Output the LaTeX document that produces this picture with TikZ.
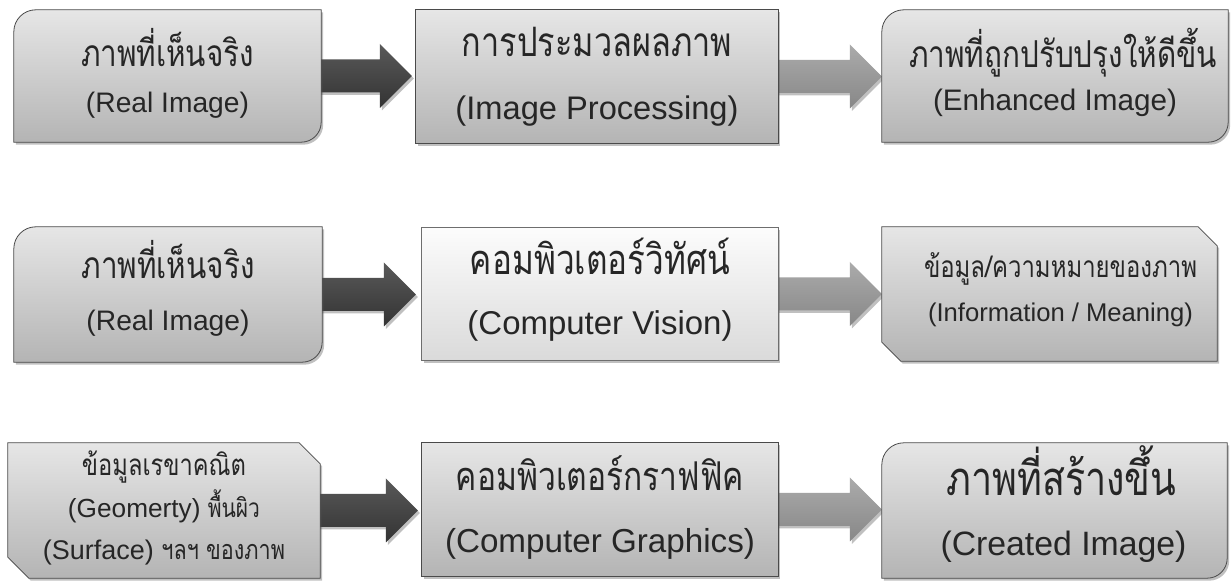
\documentclass[tikz,border=0pt]{standalone}
\usepackage{fontspec}
\setmainfont{Liberation Sans}
\newfontfamily\thai[Script=Thai,FakeStretch=0.8]{Loma}
\usetikzlibrary{calc,shadows}
\pgfdeclarelayer{bg}
\pgfdeclarelayer{mid}
\pgfsetlayers{bg,mid,main}
\definecolor{boxline}{HTML}{4A4A4A}
\definecolor{boxtop}{HTML}{E6E6E6}
\definecolor{boxbot}{HTML}{B4B4B4}
\definecolor{litetop}{HTML}{FCFCFC}
\definecolor{litebot}{HTML}{DADADA}
\newcommand\tw[2]{\resizebox{#1pt}{!}{#2}}
\newcommand\rdiagbox[2]{\path[#2] ([yshift=-22pt]#1.north west) arc[start angle=180,end angle=90,radius=22pt] -- (#1.north east) -- ([yshift=20pt]#1.south east) arc[start angle=0,end angle=-90,radius=20pt] -- (#1.south west) -- cycle;}
\newcommand\snipbox[3]{\path[#2] (#1.north west) -- ([xshift=-#3pt]#1.north east) -- ([yshift=-#3pt]#1.north east) -- (#1.south east) -- ([xshift=#3pt]#1.south west) -- ([yshift=#3pt]#1.south west) -- cycle;}
\newcommand\rectbox[2]{\path[#2] (#1.north west) rectangle (#1.south east);}
\newcommand\bigarrow[5]{\path[#3] let \p1=($(#1.east)+(-#4pt,0)$), \p2=($(#2.west)+(-#5pt,0)$) in (\x1,\y1+16.5pt) -- (\x2-32pt,\y1+16.5pt) -- (\x2-32pt,\y1+32pt) -- (\x2,\y1) -- (\x2-32pt,\y1-32pt) -- (\x2-32pt,\y1-16.5pt) -- (\x1,\y1-16.5pt) -- cycle;}
\begin{document}
\begin{tikzpicture}[x=1pt,y=1pt,
  boxnode/.style={inner sep=0pt, minimum width=#1},
  tbox/.style={inner sep=0pt, align=center, text=black!85},
  bskip/.style={font={\fontsize{20}{#1}\selectfont}},
  shad/.style={drop shadow={shadow xshift=2pt,shadow yshift=-2.5pt,opacity=0.35,fill=black!70}},
  grayfill/.style={draw=boxline, line width=0.8pt, top color=boxtop, bottom color=boxbot, shad},
  litefill/.style={draw=boxline!80, line width=0.8pt, top color=litetop, bottom color=litebot, shad},
  darkarrow/.style={top color=black!65, bottom color=black!80, shad},
  grayarrow/.style={top color=black!33, bottom color=black!47, shad}]
\useasboundingbox (0,0) rectangle (1232,581);
\begin{pgfonlayer}{bg}
\fill[white] (0,0) rectangle (1232,581);
\end{pgfonlayer}
\lineskiplimit=-300pt
\lineskip=0pt
% boxes (shape holders)
\node[boxnode=307pt, minimum height=132pt] (A1) at (167.5,505) {};
\node[boxnode=362pt, minimum height=133pt] (B1) at (597,504.5) {};
\node[boxnode=346pt, minimum height=132pt] (C1) at (1055,505) {};
\node[boxnode=308pt, minimum height=135pt] (A2) at (168,286.5) {};
\node[boxnode=356pt, minimum height=132pt] (B2) at (600,287) {};
\node[boxnode=335pt, minimum height=134pt] (C2) at (1049.5,287) {};
\node[boxnode=312pt, minimum height=135pt] (A3) at (164,70.5) {};
\node[boxnode=356pt, minimum height=133pt] (B3) at (600,71.5) {};
\node[boxnode=345pt, minimum height=135pt] (C3) at (1054.5,70.5) {};
% texts
\node[tbox, bskip=46] (A1t) at ([yshift=3pt]A1.center)
  {\tw{173}{\thai ภาพที่เห็นจริง}\\\tw{163}{(Real Image)}};
\node[tbox, bskip=63] (B1t) at (B1.center)
  {\tw{270}{\thai การประมวลผลภาพ}\\\tw{283}{(Image Processing)}};
\node[tbox, bskip=43] (C1t) at ([yshift=4pt]C1.center)
  {\hspace*{16pt}\tw{308}{\thai ภาพที่ถูกปรับปรุงให้ดีขึ้น}\\\tw{244}{(Enhanced Image)}};
\node[tbox, bskip=52] (A2t) at ([yshift=6pt]A2.center)
  {\tw{173}{\thai ภาพที่เห็นจริง}\\\tw{163}{(Real Image)}};
\node[tbox, bskip=60] (B2t) at ([yshift=4pt]B2.center)
  {\tw{260}{\thai คอมพิวเตอร์วิทัศน์}\\\tw{265}{(Computer Vision)}};
\node[tbox, bskip=44] (C2t) at ([yshift=4pt]C2.center)
  {\hspace*{22pt}\tw{273}{\thai ข้อมูล/ความหมายของภาพ}\\\hspace*{22pt}\tw{265}{(Information / Meaning)}};
\node[tbox, bskip=42] (A3t) at ([yshift=3pt]A3.center)
  {\tw{164}{\thai ข้อมูลเรขาคณิต}\\\tw{192}{(Geomerty) {\thai พื้นผิว}}\\\tw{242}{(Surface) {\thai ฯลฯ ของภาพ}}};
\node[tbox, bskip=62] (B3t) at ([yshift=2pt]B3.center)
  {\tw{288}{\thai คอมพิวเตอร์กราฟฟิค}\\\tw{310}{(Computer Graphics)}};
\node[tbox, bskip=60] (C3t) at ([yshift=6pt]C3.center)
  {\hspace*{14pt}\tw{230}{\thai ภาพที่สร้างขึ้น}\\\hspace*{18pt}\tw{246}{(Created Image)}};
% box shapes
\begin{pgfonlayer}{mid}
\rdiagbox{A1}{grayfill}
\rectbox{B1}{grayfill}
\rdiagbox{C1}{grayfill}
\rdiagbox{A2}{grayfill}
\rectbox{B2}{litefill}
\snipbox{C2}{grayfill}{19}
\snipbox{A3}{grayfill}{21}
\rectbox{B3}{grayfill}
\rdiagbox{C3}{grayfill}
\end{pgfonlayer}
% arrows
\begin{pgfonlayer}{bg}
\bigarrow{A1}{B1}{darkarrow}{12}{4}
\bigarrow{B1}{C1}{grayarrow}{11}{0}
\bigarrow{A2}{B2}{darkarrow}{10}{6}
\bigarrow{B2}{C2}{grayarrow}{11}{0}
\bigarrow{A3}{B3}{darkarrow}{6}{4}
\bigarrow{B3}{C3}{grayarrow}{11}{0}
\end{pgfonlayer}
\end{tikzpicture}
\end{document}
